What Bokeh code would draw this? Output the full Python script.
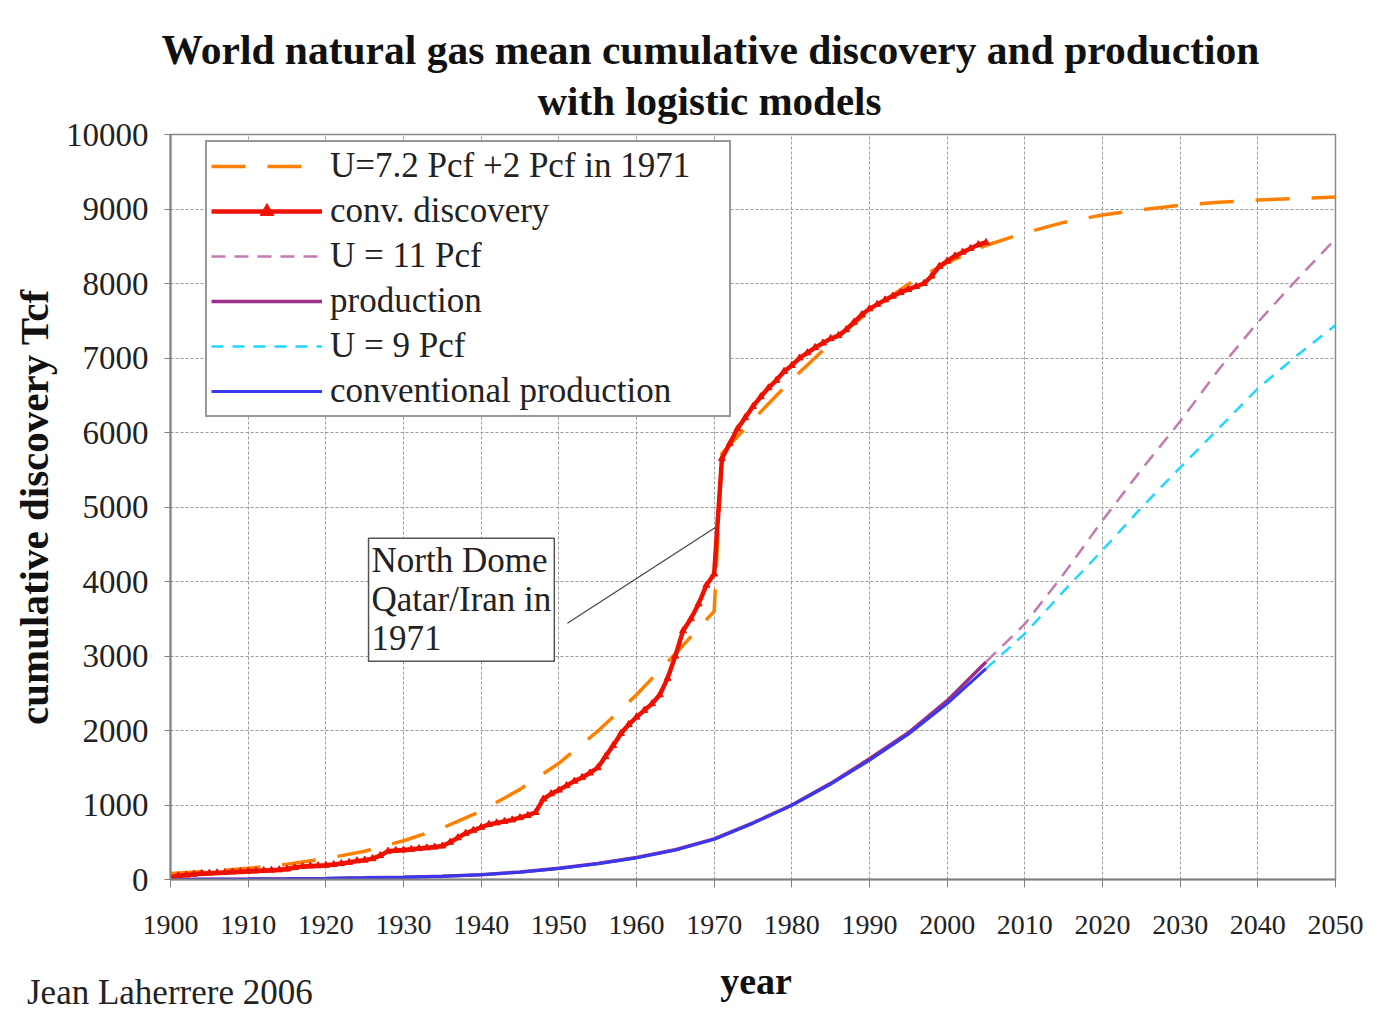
from bokeh.plotting import figure
from bokeh.models import Label, FixedTicker, Legend, LegendItem, Title, Div
from bokeh.layouts import column
from bokeh.embed import file_html
from bokeh.resources import INLINE

# ---------------- data ----------------
disc_years = list(range(1900, 2006))
discovery = [
    30, 50, 60, 70, 80, 85, 90, 95, 100, 105,
    110, 115, 120, 125, 130, 140, 160, 175, 180, 185,
    190, 200, 215, 230, 250, 260, 280, 320, 380, 390,
    395, 405, 415, 425, 435, 450, 500, 560, 620, 660,
    700, 740, 760, 780, 800, 830, 860, 900, 1080, 1150,
    1200, 1260, 1320, 1370, 1430, 1500, 1650, 1800, 1960, 2080,
    2180, 2270, 2360, 2480, 2700, 3000, 3340, 3500, 3700, 3950,
    4100, 5650, 5850, 6050, 6200, 6350, 6480, 6600, 6700, 6820,
    6900, 7000, 7070, 7140, 7200, 7260, 7300, 7380, 7480, 7580,
    7660, 7720, 7780, 7830, 7880, 7920, 7960, 8000, 8100, 8230,
    8300, 8370, 8420, 8470, 8520, 8550,
]

logistic_years = [1900, 1905, 1910, 1915, 1920, 1925, 1930, 1935, 1940, 1945,
                  1950, 1955, 1960, 1965, 1970, 1971, 1975, 1980, 1985, 1990,
                  1995, 2000, 2005, 2010, 2015, 2020, 2025, 2030, 2035, 2040,
                  2045, 2050]
logistic_72 = [80, 110, 150, 205, 280, 380, 520, 690, 920, 1210,
               1560, 1990, 2480, 3030, 3600, 5720, 6170, 6710, 7200, 7630,
               7990, 8280, 8510, 8680, 8820, 8920, 8990, 9050, 9090, 9120,
               9140, 9160]

prod_years = [1900, 1905, 1910, 1915, 1920, 1925, 1930, 1935, 1940, 1945,
              1950, 1955, 1960, 1965, 1970, 1975, 1980, 1985, 1990, 1995,
              2000, 2005]
production = [0, 3, 6, 10, 15, 22, 30, 45, 65, 100,
              150, 215, 295, 400, 545, 760, 1000, 1290, 1620, 1970,
              2400, 2920]
conv_production = [0, 3, 6, 10, 15, 22, 30, 45, 64, 98,
                   147, 212, 290, 395, 540, 755, 995, 1280, 1600, 1950,
                   2360, 2830]

fore_years = [2005, 2010, 2015, 2020, 2025, 2030, 2035, 2040, 2045, 2050]
u11 = [2920, 3430, 4100, 4820, 5500, 6150, 6850, 7480, 8050, 8600]
u9 = [2830, 3300, 3870, 4420, 4990, 5530, 6060, 6590, 7030, 7440]

x_ticks = [1900, 1910, 1920, 1930, 1940, 1950, 1960, 1970, 1980, 1990,
           2000, 2010, 2020, 2030, 2040, 2050]
y_ticks = [0, 1000, 2000, 3000, 4000, 5000, 6000, 7000, 8000, 9000, 10000]

title_1 = "World natural gas mean cumulative discovery and production"
title_2 = "with logistic models"
note_text = "North Dome\nQatar/Iran in\n1971"
x_label = "year"
y_label = "cumulative discovery Tcf"
credit = "Jean Laherrere 2006"

SERIF = "Liberation Serif"
W = 1390

# ---------------- main figure ----------------
p = figure(width=W, height=950, output_backend="svg", toolbar_location=None,
           x_range=(1900, 2050), y_range=(0, 10000),
           min_border_left=170, min_border_right=55,
           min_border_top=134, min_border_bottom=71)
p.background_fill_color = "white"
p.border_fill_color = "white"
p.outline_line_color = "#8a8a8a"
p.outline_line_width = 1.5

p.grid.grid_line_color = "#9a9a9a"
p.grid.grid_line_dash = "3 2"
p.grid.grid_line_width = 1

p.xaxis.ticker = FixedTicker(ticks=x_ticks)
p.yaxis.ticker = FixedTicker(ticks=y_ticks)
for ax in (p.xaxis, p.yaxis):
    ax.axis_line_color = "#808080"
    ax.axis_line_width = 2
    ax.major_tick_line_color = "#808080"
    ax.major_tick_in = 0
    ax.minor_tick_line_color = None
    ax.major_label_text_font = SERIF
    ax.major_label_text_color = "#222222"

p.xaxis.major_tick_out = 8
p.xaxis.major_label_standoff = 28
p.xaxis.major_label_text_font_size = "28px"

p.yaxis.major_tick_out = 6
p.yaxis.major_label_standoff = 16
p.yaxis.major_label_text_font_size = "33px"
p.yaxis.axis_label = y_label
p.yaxis.axis_label_standoff = 6
p.yaxis.axis_label_text_font = SERIF
p.yaxis.axis_label_text_font_style = "bold"
p.yaxis.axis_label_text_color = "#111111"
p.yaxis.axis_label_text_font_size = "41px"

# ---------------- series ----------------
r_orange = p.line(logistic_years, logistic_72, color="#ff8000", line_width=3.5,
                  line_dash="34 22")
r_u11 = p.line(fore_years, u11, color="#c27bb0", line_width=2.5, line_dash="14 9")
r_u9 = p.line(fore_years, u9, color="#22d6ff", line_width=2.5, line_dash="12 9")
r_prod = p.line(prod_years, production, color="#9b2f8a", line_width=3.5)
r_conv = p.line(prod_years, conv_production, color="#3838f0", line_width=3)
r_red = p.line(disc_years, discovery, color="#ee1100", line_width=4.5)
r_redm = p.scatter(disc_years, discovery, marker="triangle", size=7,
                   color="#ee1100")

# annotation box + leader line
p.line([1951.1, 1970.1], [3440, 4720], color="#444444", line_width=1.2)
p.add_layout(Label(x=1925.5, y=4580, text=note_text, text_align="left",
                   text_baseline="top", text_font=SERIF, text_font_size="35px",
                   text_color="#222222", text_line_height=1.0,
                   border_line_color="#555555", border_line_width=1.5,
                   background_fill_color="white", padding=3))

# ---------------- legend ----------------
legend = Legend(items=[
    LegendItem(label="U=7.2 Pcf +2 Pcf in 1971", renderers=[r_orange]),
    LegendItem(label="conv. discovery", renderers=[r_red, r_redm]),
    LegendItem(label="U = 11 Pcf", renderers=[r_u11]),
    LegendItem(label="production", renderers=[r_prod]),
    LegendItem(label="U = 9 Pcf", renderers=[r_u9]),
    LegendItem(label="conventional production", renderers=[r_conv]),
], location=(35, 462))
legend.label_text_font = SERIF
legend.label_text_font_size = "35px"
legend.label_text_color = "#222222"
legend.glyph_width = 111
legend.glyph_height = 34
legend.label_height = 34
legend.label_width = 395
legend.spacing = 5
legend.padding = 4
legend.margin = 0
legend.label_standoff = 8
legend.border_line_color = "#333333"
legend.border_line_width = 2
legend.background_fill_color = "white"
legend.background_fill_alpha = 1.0
p.add_layout(legend)

# ---------------- titles ----------------
t2 = Title(text=title_2, align="left", offset=367, standoff=22,
           text_font=SERIF, text_font_style="bold", text_font_size="41px",
           text_color="#111111")
t1 = Title(text=title_1, align="left", offset=-9, standoff=-17,
           text_font=SERIF, text_font_style="bold", text_font_size="41.5px",
           text_color="#111111")
p.add_layout(t2, "above")
p.add_layout(t1, "above")

# ---------------- bottom strip: x-axis title and credit ----------------
bottom_html = (
    '<div style="position:relative;width:%dpx;height:58px;">'
    '<span style="position:absolute;left:22px;top:20px;font-family:\'Liberation Serif\';'
    'font-size:35px;line-height:35px;color:#222222;white-space:nowrap;">%s</span>'
    '<span style="position:absolute;left:751px;top:7px;transform:translateX(-50%%);'
    'font-family:\'Liberation Serif\';font-weight:bold;font-size:38px;line-height:38px;'
    'color:#111111;white-space:nowrap;">%s</span></div>' % (W, credit, x_label)
)
pb = Div(text=bottom_html, width=W, height=58)

layout = column(p, pb, spacing=0)
open("out.html", "w").write(file_html(layout, INLINE))
